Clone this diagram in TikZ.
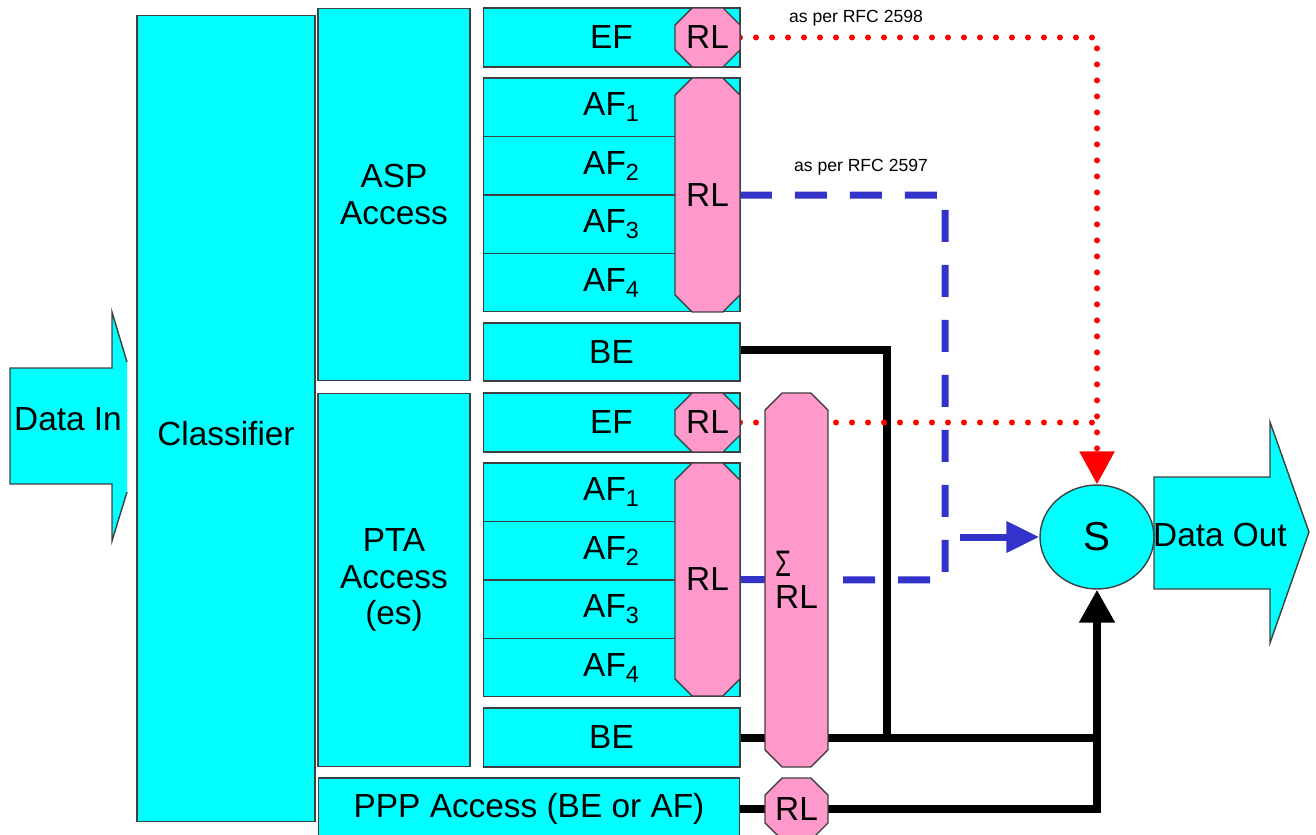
\documentclass[tikz,border=0pt]{standalone}
\usepackage{fontspec}
\setmainfont{Liberation Sans}
\usetikzlibrary{arrows.meta, positioning, shapes.geometric, shapes.misc, backgrounds}
\definecolor{qosCyan}{HTML}{00FFFF}
\definecolor{qosPink}{HTML}{FF99CC}
\definecolor{qosBlue}{HTML}{3333CC}
\definecolor{qosRed}{HTML}{FF0000}
\definecolor{qosEdge}{HTML}{404040}
\newcommand{\diagfont}{\fontsize{19}{21}\selectfont}
\newcommand{\notefont}{\fontsize{10}{12}\selectfont}
\newcommand{\sumsign}{\scalebox{0.7}[1]{\fontsize{21}{21}\selectfont Σ}}
\tikzset{
  cyanBox/.style={rectangle, draw=qosEdge, fill=qosCyan, line width=0.6pt,
                  inner sep=0pt, outer sep=0pt, align=center, minimum width=5.14cm},
  afRow/.style={cyanBox, minimum height=1.17cm},
  rlOct/.style={chamfered rectangle, chamfered rectangle sep=0.17cm, draw=qosEdge,
                fill=qosPink, line width=0.8pt, inner sep=0pt, outer sep=0pt,
                minimum width=1.3cm},
  wireK/.style={line width=0.16cm, black},
  wireB/.style={line width=0.14cm, qosBlue, dash pattern=on 0.64cm off 0.46cm},
  wireR/.style={line width=0.12cm, qosRed, line cap=round, dash pattern=on 0pt off 0.32cm},
  tipK/.style={-{Triangle[width=0.68cm, length=0.66cm]}},
  tipB/.style={-{Triangle[width=0.6cm, length=0.66cm]}},
  tipR/.style={-{Triangle[width=0.68cm, length=0.66cm]}},
  noteText/.style={font=\notefont, inner sep=0pt},
}
\begin{document}
\begin{tikzpicture}[x=0.02cm, y=-0.02cm, font=\diagfont, node distance=0pt]
  \useasboundingbox (0,0) rectangle (1316,835);

  \fill[qosCyan] (10,368) -- (112,368) -- (112,312) -- (127,362) -- (127,492)
    -- (112,541) -- (112,484) -- (10,484) -- cycle;
  \draw[qosEdge, line width=0.8pt] (127,362) -- (112,312) -- (112,368) -- (10,368)
    -- (10,484) -- (112,484) -- (112,541) -- (127,492);
  \node (din) at (68,419) {Data In};

  \node[cyanBox, minimum width=3.56cm, minimum height=16.14cm, text height=1.1cm]
    (cls) at (226,418.5) {Classifier};
  \node[cyanBox, minimum width=3.04cm, minimum height=7.46cm] (asp) at (394,194.5) {ASP\\Access};
  \node[cyanBox, minimum width=3.04cm, minimum height=7.48cm] (pta) at (394,580) {PTA\\Access\\(es)};
  \node[cyanBox, minimum width=8.44cm, minimum height=1.24cm] (ppp) at (529,809) {PPP Access (BE or AF)};

  \node[cyanBox, minimum height=1.18cm] (efA) at (611.5,37.5) {EF};
  \node[afRow] (afA1) at (611.5,107.25) {AF\textsubscript{1}};
  \node[afRow, below=of afA1] (afA2) {AF\textsubscript{2}};
  \node[afRow, below=of afA2] (afA3) {AF\textsubscript{3}};
  \node[afRow, below=of afA3] (afA4) {AF\textsubscript{4}};
  \node[cyanBox, minimum height=1.16cm] (beA) at (611.5,352) {BE};

  \node[cyanBox, minimum height=1.18cm] (efB) at (611.5,422.5) {EF};
  \node[afRow] (afB1) at (611.5,492.25) {AF\textsubscript{1}};
  \node[afRow, below=of afB1] (afB2) {AF\textsubscript{2}};
  \node[afRow, below=of afB2] (afB3) {AF\textsubscript{3}};
  \node[afRow, below=of afB3] (afB4) {AF\textsubscript{4}};
  \node[cyanBox, minimum height=1.18cm] (beB) at (611.5,737.5) {BE};

  \node[rlOct, minimum height=1.18cm] (rlEFa) at (707.5,37.5) {RL};
  \node[rlOct, minimum height=4.68cm] (rlAFa) at (707.5,195) {RL};
  \node[rlOct, minimum height=1.18cm] (rlEFb) at (707.5,422.5) {RL};
  \node[rlOct, minimum height=4.66cm] (rlAFb) at (707.5,579.5) {RL};
  \node[rlOct, minimum width=1.26cm, minimum height=7.48cm, align=left]
    (sumRL) at (796.5,580) {\sumsign\\[-3pt]RL};
  \node[rlOct, minimum width=1.26cm, minimum height=1.24cm] (rlP) at (796.5,809) {RL};

  \fill[qosCyan, draw=qosEdge, line width=0.8pt] (1154,477) -- (1270,477) -- (1270,422)
    -- (1309,532) -- (1270,643) -- (1270,589) -- (1154,589) -- cycle;
  \node (dout) at (1220,535) {Data Out};
  \node[ellipse, draw=qosEdge, fill=qosCyan, line width=0.8pt, inner sep=0pt,
        minimum width=2.28cm, minimum height=2.08cm, font=\fontsize{23}{25}\selectfont]
    (S) at (1097,537) {S};

  \node[noteText] (rfcA) at (856,18) {as per RFC 2598};
  \node[noteText] (rfcB) at (861,167) {as per RFC 2597};

  \coordinate (kTop) at (887,350);
  \coordinate (kBot) at (887,738);
  \coordinate (bTop) at (945,195);
  \coordinate (bBot) at (945,580);
  \coordinate (bArr) at (960,537);

  \begin{scope}[on background layer]
    \draw[wireK] (beA.east |- kTop) -- (kTop) -- (kBot);
    \draw[wireK] (beB.east) -- (beB.east -| S.south);
    \draw[wireK, tipK] (ppp.east) -| (S.south);
    \draw[wireB] (rlAFa.east) -- (bTop) -- (bBot) -- (rlAFb.east);
    \draw[line width=0.14cm, qosBlue, tipB] (bArr) -- (S.west);
    \draw[wireR, tipR] (rlEFa.east) -| (S.north);
    \draw[wireR] (rlEFb.east) -- (rlEFb.east -| S.north);
  \end{scope}
\end{tikzpicture}
\end{document}
